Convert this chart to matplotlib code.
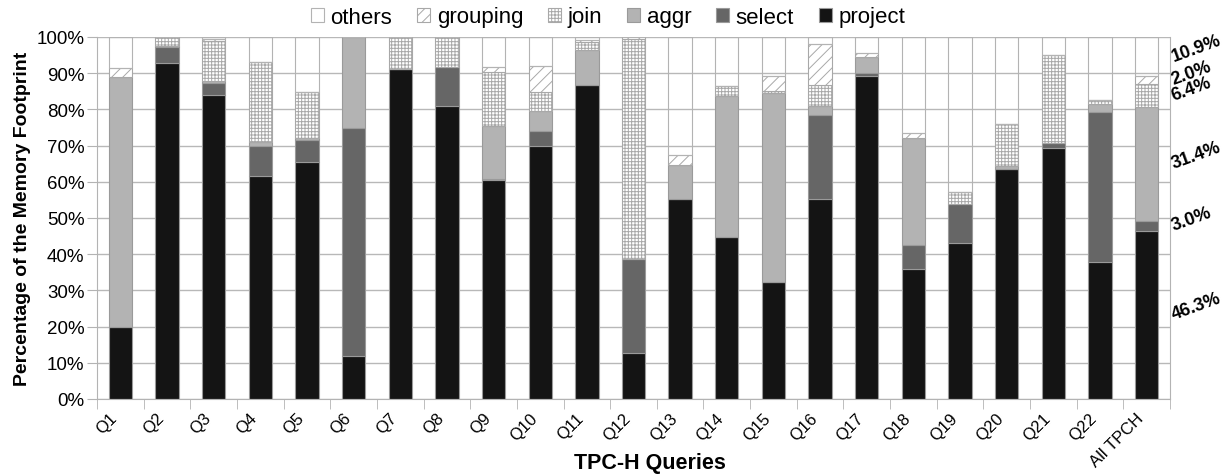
import matplotlib
matplotlib.use("Agg")
import matplotlib.pyplot as plt
import numpy as np

plt.rcParams['font.family'] = ['Liberation Sans', 'DejaVu Sans']
plt.rcParams['hatch.linewidth'] = 0.7

categories = ["Q1", "Q2", "Q3", "Q4", "Q5", "Q6", "Q7", "Q8", "Q9", "Q10", "Q11",
              "Q12", "Q13", "Q14", "Q15", "Q16", "Q17", "Q18", "Q19", "Q20", "Q21",
              "Q22", "All TPCH"]

project = [19.8, 92.7, 84.0, 61.7, 65.6, 12.0, 91.2, 81.0, 60.5, 70.0, 86.8,
           12.6, 55.2, 44.7, 32.2, 55.2, 89.3, 35.9, 43.0, 63.5, 69.3, 37.8, 46.3]
select = [0.0, 4.5, 3.3, 8.1, 5.9, 63.0, 0.0, 10.6, 0.3, 4.1, 0.0,
          26.1, 0.0, 0.0, 0.0, 23.2, 0.8, 6.6, 10.9, 0.0, 1.4, 41.4, 3.0]
aggr = [69.1, 0.3, 0.6, 1.1, 0.5, 25.0, 0.0, 0.0, 14.5, 5.4, 9.7,
        0.0, 9.4, 39.1, 52.2, 2.6, 4.3, 29.6, 0.0, 0.9, 0.0, 2.3, 31.4]
join = [0.0, 2.5, 11.1, 22.1, 12.7, 0.0, 8.8, 8.4, 14.9, 5.4, 2.2,
        60.7, 0.0, 2.6, 0.6, 5.7, 0.0, 0.0, 3.2, 11.7, 24.3, 1.1, 6.4]
grouping = [2.4, 0.0, 0.5, 0.0, 0.0, 0.0, 0.0, 0.0, 1.4, 7.0, 0.6,
            0.6, 2.8, 0.0, 4.1, 11.4, 1.2, 1.4, 0.0, 0.0, 0.0, 0.0, 2.0]
others = [100 - (a + b + c + d + e) for a, b, c, d, e in
          zip(project, select, aggr, join, grouping)]

all_labels = ["46.3%", "3.0%", "31.4%", "6.4%", "2.0%", "10.9%"]

fig = plt.figure(figsize=(12.32, 4.77), dpi=100)
ax = fig.add_axes([97 / 1232, 77 / 477, (1170 - 97) / 1232, (400 - 38) / 477])

x = np.arange(len(categories))
w = 0.5
edge = '#9a9a9a'
series = [
    ("project", project, dict(color='#141414', edgecolor=edge)),
    ("select", select, dict(color='#666666', edgecolor=edge)),
    ("aggr", aggr, dict(color='#b3b3b3', edgecolor=edge)),
    ("join", join, dict(facecolor='white', edgecolor='#a8a8a8', hatch='+++++')),
    ("grouping", grouping, dict(facecolor='white', edgecolor='#a8a8a8', hatch='///')),
    ("others", others, dict(facecolor='none', edgecolor='#b3b3b3')),
]
bottom = np.zeros(len(categories))
handles = {}
for name, vals, kw in series:
    vals = np.array(vals, dtype=float)
    b = ax.bar(x, vals, w, bottom=bottom, linewidth=0.8, label=name, zorder=2, **kw)
    handles[name] = b
    bottom = bottom + vals

# labels for All TPCH segments
last = len(categories) - 1
cum = 0.0
for (name, vals, kw), lab in zip(series, all_labels):
    v = vals[last]
    mid = cum + v / 2
    cum += v
    ax.text(last + 0.55, mid, lab, fontsize=13, fontweight='bold', rotation=20,
            rotation_mode='anchor', ha='left', va='center', clip_on=False)

ax.set_xlim(-0.5, len(categories) - 0.5)
ax.set_ylim(0, 100)
ax.set_yticks(np.arange(0, 101, 10))
ax.set_yticklabels([f"{v}%" for v in range(0, 101, 10)], fontsize=13.5)
ax.yaxis.grid(True, color='#b8b8b8', linewidth=1.0, zorder=0)
ax.set_axisbelow(True)

ax.set_xticks(x)
ax.set_xticklabels(categories, rotation=45, ha='right', fontsize=12)
ax.set_xticks(np.arange(-0.5, len(categories), 1), minor=True)
ax.tick_params(axis='x', which='major', length=0, pad=8)
ax.tick_params(axis='x', which='minor', length=7, color='#b3b3b3')
ax.tick_params(axis='y', length=7, color='#b3b3b3', pad=2)

for s in ['left', 'bottom', 'right']:
    ax.spines[s].set_color('#b3b3b3')
ax.spines['top'].set_visible(False)

ax.set_ylabel("Percentage of the Memory Footprint", fontsize=14, fontweight='bold', labelpad=4)
fig.text(650 / 1232, 1 - 464 / 477, "TPC-H Queries", fontsize=15.5, fontweight='bold',
         ha='center', va='center')

order = ["others", "grouping", "join", "aggr", "select", "project"]
fig.legend([handles[n] for n in order], order, loc='center',
           bbox_to_anchor=(608 / 1232, 1 - 18 / 477), ncol=6, frameon=False,
           fontsize=16, handlelength=0.6, handleheight=0.6, handletextpad=0.3,
           columnspacing=1.1, borderaxespad=0)

fig.savefig("out.png", dpi=100)
